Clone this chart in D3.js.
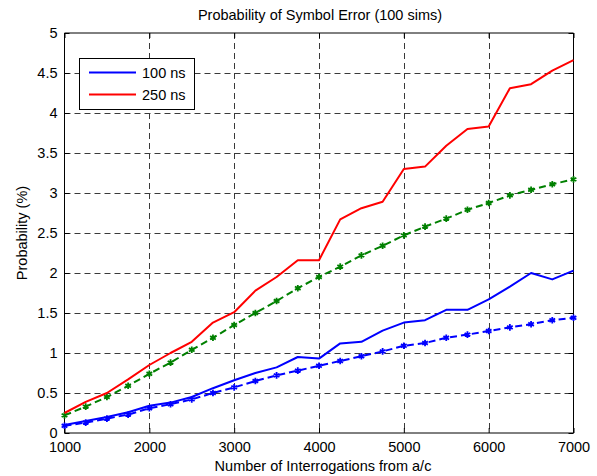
<!DOCTYPE html>
<html>
<head>
<meta charset="utf-8">
<script src="https://cdn.jsdelivr.net/npm/d3@7"></script>
<style>
  html, body { margin: 0; padding: 0; background: #fff; }
  svg { display: block; font-family: "Liberation Sans", Arial, sans-serif; }
</style>
</head>
<body>
<svg id="chart" width="597" height="476"></svg>
<script>
// Interrogation counts (x axis)
const interrogations = [1000,1250,1500,1750,2000,2250,2500,2750,3000,3250,3500,3750,4000,
                        4250,4500,4750,5000,5250,5500,5750,6000,6250,6500,6750,7000];

// Simulated symbol error probability (%), 100 ns pulse
const sim100 = [0.10,0.15,0.20,0.26,0.34,0.38,0.45,0.56,0.66,0.75,0.82,0.95,0.93,
                1.12,1.14,1.28,1.38,1.41,1.54,1.54,1.67,1.83,2.00,1.92,2.03];
// Simulated symbol error probability (%), 250 ns pulse
const sim250 = [0.25,0.39,0.50,0.67,0.85,1.00,1.14,1.38,1.51,1.78,1.95,2.16,2.16,
                2.67,2.81,2.89,3.30,3.33,3.59,3.80,3.83,4.31,4.36,4.53,4.66];
// Analytical curves (%), dashed with markers
const theory100 = [0.09,0.13,0.18,0.23,0.31,0.36,0.42,0.50,0.57,0.65,0.72,0.78,0.84,
                   0.90,0.96,1.02,1.09,1.125,1.19,1.23,1.275,1.32,1.36,1.41,1.44];
const theory250 = [0.22,0.33,0.45,0.59,0.74,0.88,1.04,1.19,1.35,1.50,1.65,1.81,1.95,
                   2.08,2.22,2.34,2.47,2.58,2.68,2.79,2.875,2.97,3.04,3.11,3.17];

const xTicks = [1000,2000,3000,4000,5000,6000,7000];
const yTicks = [0,0.5,1,1.5,2,2.5,3,3.5,4,4.5,5];
const legendLabels = ["100 ns", "250 ns"];

const FS = 14.5;
const svg = d3.select("#chart");
const m = { left: 64.5, right: 573.5, top: 33, bottom: 433 };

const x = d3.scaleLinear().domain([1000, 7000]).range([m.left, m.right]);
const y = d3.scaleLinear().domain([0, 5]).range([m.bottom, m.top]);

// grid
const grid = svg.append("g").attr("stroke", "#3a3a3a").attr("stroke-width", 1)
  .attr("stroke-dasharray", "6,4").attr("fill", "none");
xTicks.slice(1, -1).forEach(t => {
  grid.append("line").attr("x1", Math.round(x(t)) + 0.5).attr("x2", Math.round(x(t)) + 0.5)
    .attr("y1", m.top).attr("y2", m.bottom);
});
yTicks.slice(1, -1).forEach(t => {
  grid.append("line").attr("x1", m.left).attr("x2", m.right)
    .attr("y1", Math.round(y(t)) + 0.5).attr("y2", Math.round(y(t)) + 0.5);
});

// axes (ticks inward on all sides)
const tickLen = 5;
const fmtX = d3.format("d");
const fmtY = v => String(v);
const bottomAxis = d3.axisBottom(x).tickValues(xTicks).tickSize(-tickLen).tickPadding(9).tickFormat(fmtX);
const topAxis = d3.axisTop(x).tickValues(xTicks).tickSize(-tickLen).tickFormat("");
const leftAxis = d3.axisLeft(y).tickValues(yTicks).tickSize(-tickLen).tickPadding(7).tickFormat(fmtY);
const rightAxis = d3.axisRight(y).tickValues(yTicks).tickSize(-tickLen).tickFormat("");

function styleAxis(g) {
  g.selectAll("path").attr("stroke", "#000").attr("stroke-width", 1);
  g.selectAll("line").attr("stroke", "#000");
  g.selectAll("text").attr("fill", "#000").attr("font-size", FS)
    .attr("font-family", "'Liberation Sans', Arial, sans-serif");
}
svg.append("g").attr("transform", `translate(0,${m.bottom})`).call(bottomAxis).call(styleAxis)
  .call(g => g.select(".domain").attr("d", `M${m.left},0H${m.right}`));
svg.append("g").attr("transform", `translate(0,${m.top})`).call(topAxis).call(styleAxis)
  .call(g => g.select(".domain").attr("d", `M${m.left},0H${m.right}`));
svg.append("g").attr("transform", `translate(${m.left},0)`).call(leftAxis).call(styleAxis)
  .call(g => g.select(".domain").attr("d", `M0,${m.top}V${m.bottom}`))
  .call(g => g.selectAll("text").attr("dy", "0.28em"));
svg.append("g").attr("transform", `translate(${m.right},0)`).call(rightAxis).call(styleAxis)
  .call(g => g.select(".domain").attr("d", `M0,${m.top}V${m.bottom}`));

// series
const line = d3.line().x((d, i) => x(interrogations[i])).y(d => y(d));
const series = [
  { vals: theory100, color: "#0000ff", dashed: true },
  { vals: theory250, color: "#008000", dashed: true },
  { vals: sim100, color: "#0000ff", dashed: false },
  { vals: sim250, color: "#ff0000", dashed: false }
];
const plot = svg.append("g");
series.forEach(s => {
  plot.append("path").datum(s.vals).attr("d", line)
    .attr("fill", "none").attr("stroke", s.color).attr("stroke-width", 2)
    .attr("stroke-linejoin", "round")
    .attr("stroke-dasharray", s.dashed ? "7,4" : null);
  if (s.dashed) {
    const sym = d3.symbol().type(d3.symbolAsterisk).size(30);
    plot.selectAll(null).data(s.vals).join("path")
      .attr("transform", (d, i) => `translate(${x(interrogations[i])},${y(d)})`)
      .attr("d", sym).attr("fill", "none").attr("stroke", s.color).attr("stroke-width", 1.8);
  }
});

// legend
const lg = svg.append("g");
lg.append("rect").attr("x", 79.5).attr("y", 58.5).attr("width", 115).attr("height", 51)
  .attr("fill", "#fff").attr("stroke", "#000").attr("stroke-width", 1);
[["#0000ff", 72.5], ["#ff0000", 94.5]].forEach(([c, yy], i) => {
  lg.append("line").attr("x1", 89).attr("x2", 136).attr("y1", yy).attr("y2", yy)
    .attr("stroke", c).attr("stroke-width", 2);
  lg.append("text").attr("x", 142).attr("y", yy + 5).attr("font-size", FS)
    .attr("fill", "#000").text(legendLabels[i]);
});

// titles
svg.append("text").attr("x", 320).attr("y", 20).attr("text-anchor", "middle")
  .attr("font-size", FS).text("Probability of Symbol Error (100 sims)");
svg.append("text").attr("x", 323).attr("y", 471).attr("text-anchor", "middle")
  .attr("font-size", FS).text("Number of Interrogations from a/c");
svg.append("text").attr("transform", `translate(27,${(m.top + m.bottom) / 2}) rotate(-90)`)
  .attr("text-anchor", "middle").attr("font-size", FS).text("Probability (%)");
</script>
</body>
</html>
